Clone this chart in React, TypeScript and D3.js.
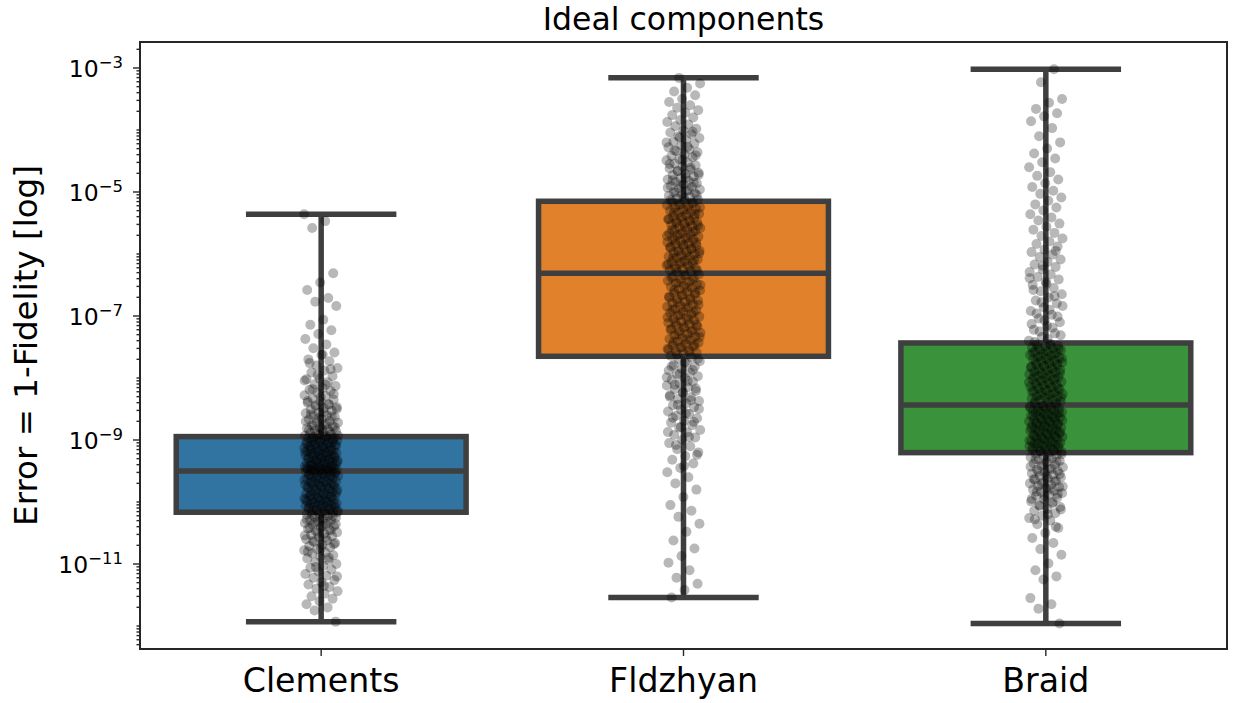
import React, { useEffect } from "react";
import * as d3 from "d3";

// ---- data (values as log10 of the error) ----
const categories = ["Clements", "Fldzhyan", "Braid"];
const boxColors = ["#3274a1", "#e1812c", "#3a923a"];

const whiskerLowLog10 = [-11.93, -11.54, -11.96];
const q1Log10 = [-10.165, -7.65, -9.204];
const medianLog10 = [-9.5, -6.31, -8.436];
const q3Log10 = [-8.945, -5.15, -7.435];
const whiskerHighLog10 = [-5.36, -3.157, -3.02];

const yTickExponents = [-3, -5, -7, -9, -11];

const clementsLog10 = [
  -5.36,-5.47,-5.58,-6.31,-6.46,-6.58,-6.71,-6.77,-6.84,-7.06,-7.14,-7.23,-7.29,-7.37,-7.46,-7.52,-7.59,-7.63,-7.7,-7.73,
  -7.8,-7.84,-7.88,-7.91,-7.97,-8.01,-8.02,-8.07,-8.1,-8.13,-8.16,-8.19,-8.21,-8.24,-8.28,-8.29,-8.33,-8.35,-8.38,-8.4,
  -8.42,-8.44,-8.47,-8.49,-8.51,-8.53,-8.56,-8.57,-8.6,-8.61,-8.63,-8.66,-8.67,-8.69,-8.71,-8.72,-8.75,-8.76,-8.78,-8.8,
  -8.81,-8.83,-8.85,-8.86,-8.88,-8.89,-8.91,-8.92,-8.93,-8.94,
  -8.95,-8.96,-8.97,-8.97,-8.99,-9.0,-9.01,-9.01,-9.03,-9.04,-9.04,-9.06,-9.07,-9.07,-9.08,-9.1,-9.1,-9.11,-9.13,-9.13,
  -9.14,-9.15,-9.17,-9.17,-9.18,-9.19,-9.2,-9.21,-9.22,-9.22,-9.24,-9.25,-9.25,-9.26,-9.28,-9.28,-9.29,-9.3,-9.31,-9.32,
  -9.33,-9.33,-9.35,-9.35,-9.36,-9.37,-9.38,-9.39,-9.39,-9.4,-9.41,-9.42,-9.43,-9.43,-9.44,-9.45,-9.45,-9.46,-9.47,-9.47,
  -9.48,-9.48,-9.49,-9.49,-9.5,-9.5,
  -9.51,-9.52,-9.53,-9.54,-9.55,-9.56,-9.57,-9.58,-9.58,-9.59,-9.6,-9.61,-9.62,-9.63,-9.64,-9.66,-9.67,-9.68,-9.69,-9.7,
  -9.71,-9.72,-9.73,-9.74,-9.75,-9.76,-9.77,-9.78,-9.79,-9.8,-9.81,-9.83,-9.84,-9.85,-9.86,-9.87,-9.88,-9.89,-9.9,-9.91,
  -9.92,-9.93,-9.94,-9.95,-9.96,-9.97,-9.98,-9.99,-10.0,-10.01,-10.02,-10.03,-10.04,-10.05,-10.05,-10.06,-10.07,-10.08,-10.09,-10.1,
  -10.11,-10.12,-10.13,-10.14,-10.15,-10.16,
  -10.17,-10.19,-10.2,-10.22,-10.24,-10.25,-10.27,-10.29,-10.3,-10.32,-10.34,-10.35,-10.37,-10.39,-10.41,-10.43,-10.45,-10.47,-10.49,-10.51,
  -10.53,-10.55,-10.57,-10.6,-10.62,-10.64,-10.66,-10.69,-10.71,-10.73,-10.76,-10.78,-10.81,-10.83,-10.86,-10.88,-10.91,-10.94,-10.97,-11.0,
  -11.03,-11.06,-11.09,-11.12,-11.16,-11.19,-11.22,-11.26,-11.29,-11.33,-11.37,-11.4,-11.44,-11.48,-11.52,-11.56,-11.6,-11.65,-11.7,-11.75,
  -11.93,
  -7.62,-7.76,-7.86,-7.95,-8.04,-8.11,-8.18,-8.26,-8.31,-8.37,-8.43,-8.46,-8.5,-8.55,-8.59,-8.62,-8.65,-8.7,-8.74,-8.77,
  -8.79,-8.82,-8.84,-8.87,-8.9,-8.93,
  -8.955,-8.975,-8.995,-9.015,-9.035,-9.055,-9.075,-9.095,-9.115,-9.135,-9.155,-9.175,-9.195,-9.215,-9.235,-9.255,-9.275,-9.295,-9.315,-9.335,
  -9.355,-9.375,-9.395,-9.415,-9.435,-9.455,-9.475,-9.495,
  -9.515,-9.54,-9.565,-9.59,-9.615,-9.64,-9.665,-9.69,-9.715,-9.74,-9.765,-9.79,-9.815,-9.84,-9.865,-9.89,-9.915,-9.94,-9.965,-9.99,
  -10.015,-10.04,-10.065,-10.09,-10.115,-10.14,-10.16,
  -10.18,-10.21,-10.23,-10.26,-10.28,-10.31,-10.33,-10.36,-10.38,-10.42,-10.46,-10.5,-10.54,-10.58,-10.63,-10.68,-10.74,-10.8,-10.9,-11.05,
  -11.2,-11.35,
];

const fldzhyanLog10 = [
  -3.16,-3.25,-3.32,-3.38,-3.44,-3.5,-3.55,-3.6,-3.64,-3.68,-3.72,-3.76,-3.8,-3.84,-3.87,-3.91,-3.94,-3.98,-4.01,-4.04,
  -4.07,-4.1,-4.13,-4.16,-4.19,-4.22,-4.25,-4.28,-4.31,-4.34,-4.36,-4.39,-4.42,-4.44,-4.47,-4.49,-4.52,-4.54,-4.57,-4.59,
  -4.62,-4.64,-4.66,-4.69,-4.71,-4.73,-4.75,-4.78,-4.8,-4.82,-4.84,-4.86,-4.88,-4.9,-4.92,-4.94,-4.96,-4.98,-5.0,-5.02,
  -5.04,-5.06,-5.08,-5.1,-5.12,-5.14,
  -5.16,-5.18,-5.2,-5.21,-5.23,-5.25,-5.27,-5.28,-5.3,-5.32,-5.34,-5.35,-5.37,-5.39,-5.41,-5.42,-5.44,-5.46,-5.48,-5.49,
  -5.51,-5.53,-5.55,-5.56,-5.58,-5.6,-5.62,-5.63,-5.65,-5.67,-5.69,-5.7,-5.72,-5.74,-5.76,-5.77,-5.79,-5.81,-5.83,-5.84,
  -5.86,-5.88,-5.9,-5.91,-5.93,-5.95,-5.97,-5.98,-6.0,-6.02,-6.04,-6.05,-6.07,-6.09,-6.11,-6.12,-6.14,-6.16,-6.18,-6.19,
  -6.21,-6.23,-6.25,-6.26,-6.28,-6.3,
  -6.33,-6.35,-6.37,-6.39,-6.41,-6.43,-6.45,-6.47,-6.49,-6.51,-6.53,-6.55,-6.57,-6.59,-6.61,-6.63,-6.65,-6.67,-6.69,-6.71,
  -6.73,-6.75,-6.77,-6.79,-6.81,-6.83,-6.85,-6.87,-6.89,-6.91,-6.93,-6.95,-6.97,-6.99,-7.01,-7.03,-7.05,-7.07,-7.09,-7.11,
  -7.13,-7.15,-7.17,-7.19,-7.21,-7.23,-7.25,-7.27,-7.29,-7.31,-7.33,-7.35,-7.37,-7.39,-7.41,-7.43,-7.45,-7.47,-7.49,-7.51,
  -7.53,-7.55,-7.57,-7.59,-7.61,-7.64,
  -7.67,-7.7,-7.73,-7.76,-7.79,-7.82,-7.85,-7.88,-7.91,-7.94,-7.97,-8.0,-8.03,-8.06,-8.09,-8.12,-8.15,-8.18,-8.21,-8.24,
  -8.28,-8.31,-8.34,-8.37,-8.41,-8.44,-8.47,-8.51,-8.54,-8.58,-8.61,-8.65,-8.69,-8.72,-8.76,-8.8,-8.84,-8.88,-8.92,-8.96,
  -9.0,-9.05,-9.1,-9.15,-9.2,-9.26,-9.32,-9.38,-9.45,-9.52,-9.6,-9.7,-9.8,-9.92,-10.05,-10.14,-10.24,-10.35,-10.48,-10.62,
  -10.75,-10.87,-10.98,-11.1,-11.22,-11.32,-11.42,-11.54,
  -4.03,-4.12,-4.2,-4.27,-4.33,-4.41,-4.48,-4.55,-4.61,-4.67,-4.72,-4.77,-4.81,-4.85,-4.89,-4.93,-4.97,-5.01,-5.05,-5.09,
  -5.13,
  -5.17,-5.21,-5.25,-5.29,-5.33,-5.36,-5.4,-5.44,-5.47,-5.5,-5.54,-5.57,-5.61,-5.64,-5.68,-5.71,-5.75,-5.78,-5.82,-5.85,
  -5.89,-5.92,-5.96,-5.99,-6.03,-6.06,-6.1,-6.13,-6.17,-6.2,-6.24,-6.27,
  -6.34,-6.38,-6.42,-6.46,-6.5,-6.54,-6.58,-6.62,-6.66,-6.7,-6.74,-6.78,-6.82,-6.86,-6.9,-6.94,-6.98,-7.02,-7.06,-7.1,
  -7.14,-7.18,-7.22,-7.26,-7.3,-7.34,-7.38,-7.42,-7.46,-7.5,-7.54,-7.58,-7.62,
  -7.69,-7.75,-7.81,-7.87,-7.93,-7.99,-8.05,-8.11,-8.17,-8.23,-8.3,-8.36,-8.43,-8.5,-8.57,-8.64,-8.71,-8.79,-8.87,-8.95,
  -9.08,-9.24,-9.42,
];

const braidLog10 = [
  -3.02,-3.23,-3.5,-3.56,-3.66,-3.73,-3.78,-3.86,-3.97,-4.1,-4.2,-4.3,-4.38,-4.46,-4.52,-4.6,-4.68,-4.74,-4.8,-4.86,
  -4.92,-4.98,-5.03,-5.09,-5.14,-5.2,-5.25,-5.3,-5.36,-5.41,-5.46,-5.51,-5.56,-5.61,-5.66,-5.71,-5.75,-5.8,-5.84,-5.88,
  -5.93,-5.97,-6.01,-6.05,-6.09,-6.13,-6.17,-6.21,-6.25,-6.29,-6.33,-6.37,-6.41,-6.45,-6.5,-6.55,-6.6,-6.65,-6.7,-6.75,
  -6.8,-6.86,-6.92,-6.98,-7.04,-7.1,-7.16,-7.22,-7.28,-7.34,-7.4,
  -7.45,-7.46,-7.48,-7.49,-7.51,-7.52,-7.54,-7.55,-7.57,-7.58,-7.6,-7.61,-7.63,-7.64,-7.66,-7.67,-7.69,-7.7,-7.72,-7.73,
  -7.75,-7.76,-7.78,-7.79,-7.81,-7.82,-7.84,-7.85,-7.87,-7.88,-7.9,-7.91,-7.93,-7.94,-7.96,-7.97,-7.99,-8.0,-8.02,-8.03,
  -8.05,-8.06,-8.08,-8.09,-8.11,-8.12,-8.14,-8.15,-8.17,-8.18,-8.2,-8.21,-8.23,-8.24,-8.26,-8.27,-8.29,-8.3,-8.32,-8.33,
  -8.35,-8.36,-8.38,-8.39,-8.41,-8.43,
  -8.45,-8.46,-8.47,-8.48,-8.49,-8.5,-8.52,-8.53,-8.54,-8.55,-8.56,-8.57,-8.59,-8.6,-8.61,-8.62,-8.63,-8.64,-8.66,-8.67,
  -8.68,-8.69,-8.7,-8.71,-8.73,-8.74,-8.75,-8.76,-8.77,-8.78,-8.8,-8.81,-8.82,-8.83,-8.84,-8.85,-8.87,-8.88,-8.89,-8.9,
  -8.91,-8.92,-8.94,-8.95,-8.96,-8.97,-8.98,-8.99,-9.01,-9.02,-9.03,-9.04,-9.05,-9.06,-9.08,-9.09,-9.1,-9.11,-9.12,-9.13,
  -9.15,-9.16,-9.17,-9.18,-9.19,-9.2,
  -9.22,-9.24,-9.26,-9.28,-9.3,-9.32,-9.34,-9.36,-9.38,-9.4,-9.42,-9.44,-9.46,-9.48,-9.5,-9.52,-9.54,-9.56,-9.58,-9.6,
  -9.62,-9.64,-9.66,-9.68,-9.7,-9.72,-9.74,-9.76,-9.78,-9.8,-9.82,-9.84,-9.86,-9.88,-9.9,-9.93,-9.96,-9.99,-10.02,-10.05,
  -10.08,-10.11,-10.14,-10.18,-10.22,-10.26,-10.3,-10.36,-10.42,-10.5,-10.58,-10.66,-10.76,-10.85,-10.99,-11.1,-11.2,-11.25,-11.55,-11.65,
  -11.72,-11.96,
  -6.48,-6.58,-6.68,-6.78,-6.84,-6.9,-6.96,-7.01,-7.07,-7.13,-7.19,-7.25,-7.31,-7.37,-7.42,-5.95,-6.19,-6.39,
  -7.47,-7.5,-7.53,-7.56,-7.59,-7.62,-7.65,-7.68,-7.71,-7.74,-7.77,-7.8,-7.83,-7.86,-7.89,-7.92,-7.95,-7.98,-8.01,-8.04,
  -8.07,-8.1,-8.13,-8.16,-8.19,-8.22,-8.25,-8.28,-8.31,-8.34,-8.37,-8.4,
  -8.455,-8.48,-8.5,-8.53,-8.555,-8.58,-8.605,-8.63,-8.655,-8.68,-8.705,-8.73,-8.755,-8.78,-8.805,-8.83,-8.855,-8.88,-8.905,-8.93,
  -8.955,-8.98,-9.005,-9.03,-9.055,-9.08,-9.105,-9.13,-9.155,-9.18,
  -9.23,-9.27,-9.31,-9.35,-9.39,-9.43,-9.47,-9.51,-9.55,-9.59,-9.63,-9.67,-9.71,-9.75,-9.79,-9.83,-9.87,-9.91,-9.95,-10.0,
  -10.06,-10.12,-10.2,-10.28,-10.4,
];

const pointSets = [clementsLog10, fldzhyanLog10, braidLog10];

// ---- layout ----
const W = 1233;
const H = 703;
const plot = { left: 140, right: 1227, top: 42, bottom: 649 };
const FONT = "'DejaVu Sans', 'Liberation Sans', sans-serif";
const EDGE = "#3f3f3f";
const LW = 5.5;

export default function App() {
  useEffect(() => {
    document.body.style.margin = "0";
  }, []);

  const x = d3.scaleBand<string>().domain(categories).range([plot.left, plot.right]).padding(0);
  const y = d3
    .scaleLog()
    .domain([Math.pow(10, -12.371), Math.pow(10, -2.581)])
    .range([plot.bottom, plot.top]);
  const [dMin, dMax] = y.domain();

  const bw = x.bandwidth();
  const boxW = bw * 0.8;
  const capW = boxW / 2;
  const jitter = bw * 0.047;

  const ticks: { v: number; major: boolean; exp: number }[] = [];
  for (let k = -13; k <= -2; k++) {
    for (let m = 1; m <= 9; m++) {
      const v = m * Math.pow(10, k);
      if (v < dMin || v > dMax) continue;
      const major = m === 1 && yTickExponents.includes(k);
      ticks.push({ v, major, exp: k });
    }
  }

  return (
    <svg
      width={W}
      height={H}
      style={{ position: "absolute", left: 0, top: 0, display: "block", background: "#fff" }}
      fontFamily={FONT}
    >
      <rect x={0} y={0} width={W} height={H} fill="#fff" />
      <text x={(plot.left + plot.right) / 2} y={29.5} textAnchor="middle" fontSize={31.5} fill="#000">
        Ideal components
      </text>

      {categories.map((c, i) => {
        const cx = x(c)! + bw / 2;
        const yq1 = y(Math.pow(10, q1Log10[i]));
        const yq3 = y(Math.pow(10, q3Log10[i]));
        const ymed = y(Math.pow(10, medianLog10[i]));
        const ylo = y(Math.pow(10, whiskerLowLog10[i]));
        const yhi = y(Math.pow(10, whiskerHighLog10[i]));
        return (
          <g key={c}>
            <line x1={cx} x2={cx} y1={yq3} y2={yhi} stroke={EDGE} strokeWidth={LW} />
            <line x1={cx} x2={cx} y1={yq1} y2={ylo} stroke={EDGE} strokeWidth={LW} />
            <line x1={cx - capW / 2} x2={cx + capW / 2} y1={yhi} y2={yhi} stroke={EDGE} strokeWidth={LW} strokeLinecap="square" />
            <line x1={cx - capW / 2} x2={cx + capW / 2} y1={ylo} y2={ylo} stroke={EDGE} strokeWidth={LW} strokeLinecap="square" />
            <rect
              x={cx - boxW / 2}
              y={yq3}
              width={boxW}
              height={yq1 - yq3}
              fill={boxColors[i]}
              stroke={EDGE}
              strokeWidth={LW}
            />
            <line x1={cx - boxW / 2} x2={cx + boxW / 2} y1={ymed} y2={ymed} stroke={EDGE} strokeWidth={LW} />
          </g>
        );
      })}

      {categories.map((c, i) => {
        const cx = x(c)! + bw / 2;
        return (
          <g key={"p" + c} fill="#000" fillOpacity={0.28}>
            {pointSets[i].map((lv, j) => {
              const f = ((j * 0.6180339887 + i * 0.37) % 1) * 2 - 1;
              return <circle key={j} cx={cx + f * jitter} cy={y(Math.pow(10, lv))} r={5} />;
            })}
          </g>
        );
      })}

      <rect
        x={plot.left}
        y={plot.top}
        width={plot.right - plot.left}
        height={plot.bottom - plot.top}
        fill="none"
        stroke="#262626"
        strokeWidth={2}
      />

      {ticks.map((t, i) => {
        const ty = y(t.v);
        return (
          <g key={"t" + i}>
            <line x1={plot.left - (t.major ? 7 : 3.5)} x2={plot.left} y1={ty} y2={ty} stroke="#262626" strokeWidth={1.4} />
            {t.major && (
              <text x={123} y={ty + 9} textAnchor="end" fontSize={23.5} fill="#000">
                10
                <tspan dy={-9} fontSize={16.5}>
                  {"\u2212" + Math.abs(t.exp)}
                </tspan>
              </text>
            )}
          </g>
        );
      })}

      {categories.map((c) => {
        const cx = x(c)! + bw / 2;
        return (
          <g key={"x" + c}>
            <line x1={cx} x2={cx} y1={plot.bottom} y2={plot.bottom + 7} stroke="#262626" strokeWidth={1.4} />
            <text x={cx} y={692} textAnchor="middle" fontSize={33.2} fill="#000">
              {c}
            </text>
          </g>
        );
      })}

      <text
        transform={`translate(37, ${(plot.top + plot.bottom) / 2}) rotate(-90)`}
        textAnchor="middle"
        fontSize={32.5}
        fill="#000"
      >
        Error = 1-Fidelity [log]
      </text>
    </svg>
  );
}
